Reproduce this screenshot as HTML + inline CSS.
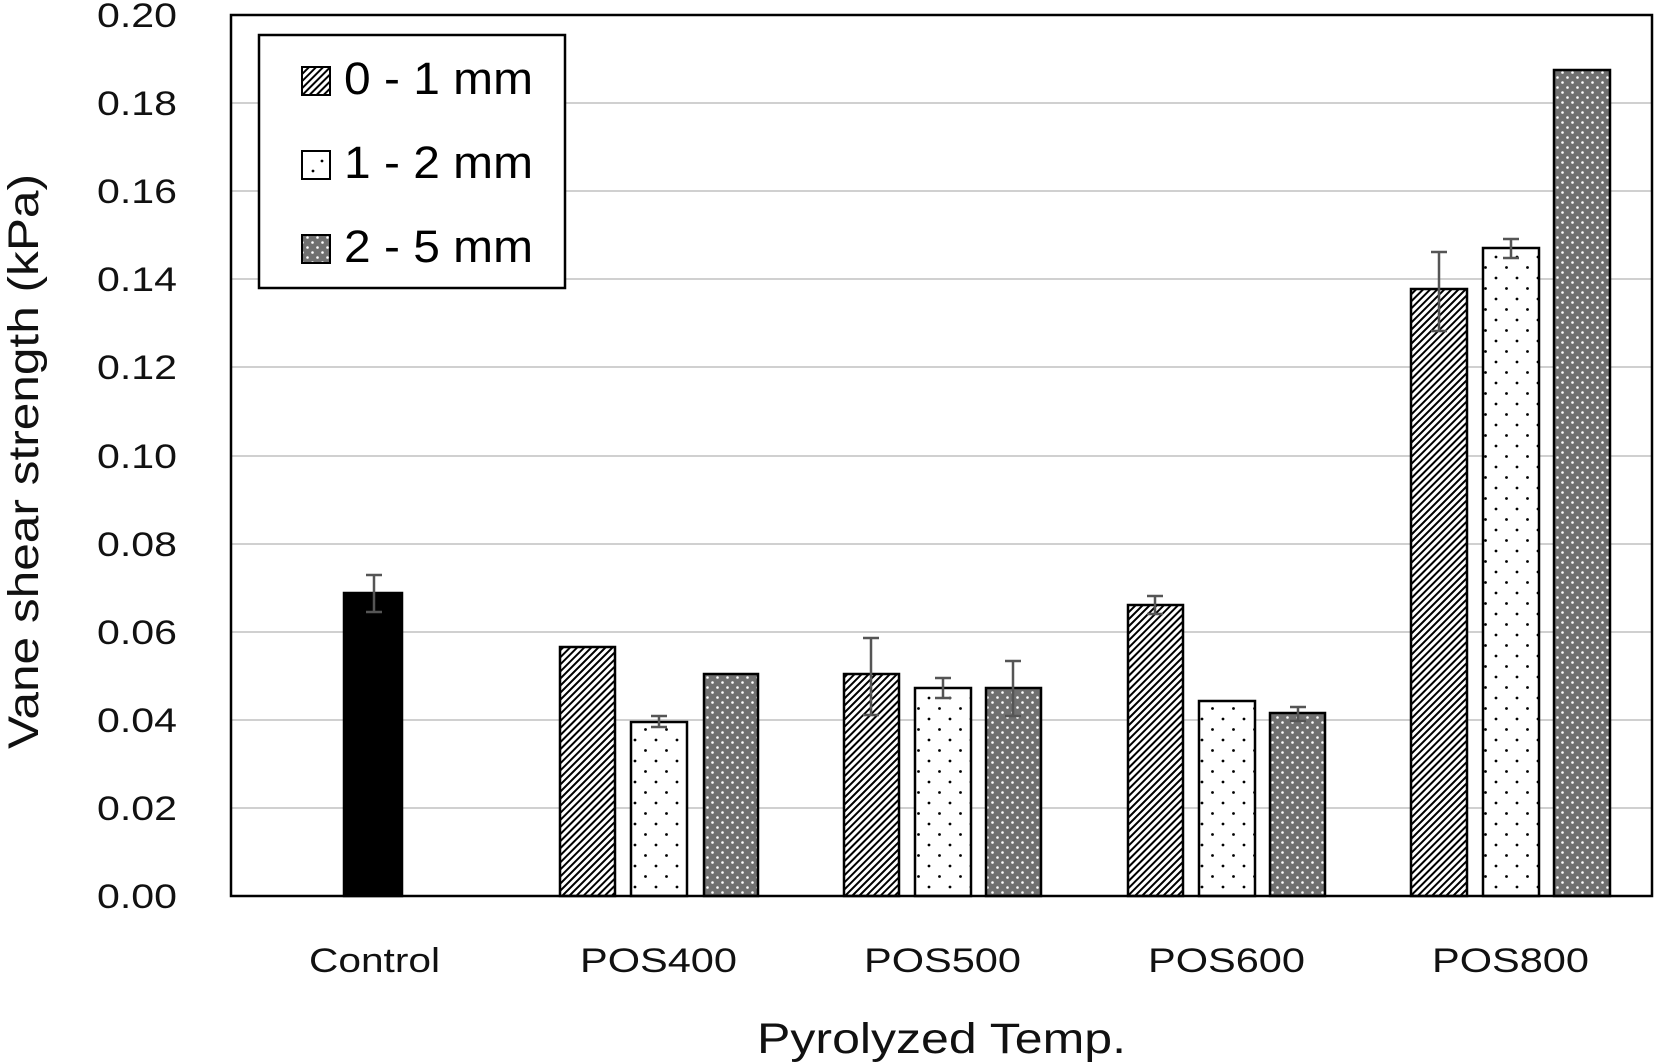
<!DOCTYPE html>
<html><head><style>body{margin:0;background:#fff}svg{display:block}</style></head><body>
<svg width="1654" height="1062" xmlns="http://www.w3.org/2000/svg" font-family="Liberation Sans, Arial, sans-serif">
<defs>
<pattern id="hatch" patternUnits="userSpaceOnUse" width="5" height="5" patternTransform="rotate(45)">
<rect width="5" height="5" fill="#fff"/><rect width="2" height="5" fill="#000"/></pattern>
<pattern id="dots" patternUnits="userSpaceOnUse" width="21" height="21">
<rect width="21" height="21" fill="#fff"/><circle cx="5" cy="5" r="1.4" fill="#000"/><circle cx="15.5" cy="15.5" r="1.4" fill="#000"/></pattern>
<pattern id="gray" patternUnits="userSpaceOnUse" width="10" height="10">
<rect width="10" height="10" fill="#707070"/><circle cx="2.5" cy="2.5" r="1.3" fill="#fff"/><circle cx="7.5" cy="7.5" r="1.3" fill="#fff"/></pattern>
</defs>
<g stroke="#d0d0d0" stroke-width="2">
<line x1="231" x2="1652" y1="103" y2="103"/><line x1="231" x2="1652" y1="191" y2="191"/>
<line x1="231" x2="1652" y1="279" y2="279"/><line x1="231" x2="1652" y1="367" y2="367"/>
<line x1="231" x2="1652" y1="456" y2="456"/><line x1="231" x2="1652" y1="544" y2="544"/>
<line x1="231" x2="1652" y1="632" y2="632"/><line x1="231" x2="1652" y1="720" y2="720"/>
<line x1="231" x2="1652" y1="808" y2="808"/>
</g>
<g stroke="#000" stroke-width="2.5">
<rect x="344" y="593" width="58" height="303" fill="#000"/>
<rect x="560" y="647" width="55" height="249" fill="url(#hatch)"/>
<rect x="631" y="722" width="56" height="174" fill="url(#dots)"/>
<rect x="704" y="674" width="54" height="222" fill="url(#gray)"/>
<rect x="844" y="674" width="55" height="222" fill="url(#hatch)"/>
<rect x="915" y="688" width="56" height="208" fill="url(#dots)"/>
<rect x="986" y="688" width="55" height="208" fill="url(#gray)"/>
<rect x="1128" y="605" width="55" height="291" fill="url(#hatch)"/>
<rect x="1199" y="701" width="56" height="195" fill="url(#dots)"/>
<rect x="1270" y="713" width="55" height="183" fill="url(#gray)"/>
<rect x="1411" y="289" width="56" height="607" fill="url(#hatch)"/>
<rect x="1483" y="248" width="56" height="648" fill="url(#dots)"/>
<rect x="1554" y="70" width="56" height="826" fill="url(#gray)"/>
</g>
<g stroke="#555" stroke-width="2.5" fill="none">
<path d="M374 575V612M366 575H382M366 612H382"/>
<path d="M659 716V727M651 716H667M651 727H667"/>
<path d="M871 638V715M863 638H879M863 715H879"/>
<path d="M943 678V698M935 678H951M935 698H951"/>
<path d="M1013 661V716M1005 661H1021M1005 716H1021"/>
<path d="M1155 596V614M1147 596H1163M1147 614H1163"/>
<path d="M1298 707V721M1290 707H1306M1290 721H1306"/>
<path d="M1439 252V331M1431 252H1447M1431 331H1447"/>
<path d="M1511 239V258M1503 239H1519M1503 258H1519"/>
</g>
<rect x="231" y="15" width="1421" height="881" fill="none" stroke="#000" stroke-width="2.5"/>
<rect x="259" y="35" width="306" height="253" fill="#fff" stroke="#000" stroke-width="2.5"/>
<rect x="302" y="67" width="28" height="28" fill="url(#hatch)" stroke="#000" stroke-width="2"/>
<rect x="302" y="151" width="28" height="28" fill="#fff" stroke="#000" stroke-width="2"/>
<circle cx="322" cy="161" r="1.4"/><circle cx="313" cy="171" r="1.4"/>
<rect x="302" y="235" width="28" height="28" fill="url(#gray)" stroke="#000" stroke-width="2"/>
<g font-size="45" fill="#000">
<text x="344" y="94" textLength="189" lengthAdjust="spacingAndGlyphs">0 - 1 mm</text>
<text x="344" y="178" textLength="189" lengthAdjust="spacingAndGlyphs">1 - 2 mm</text>
<text x="344" y="262" textLength="189" lengthAdjust="spacingAndGlyphs">2 - 5 mm</text>
</g>
<g font-size="34" fill="#111">
<text x="97" y="27" textLength="80" lengthAdjust="spacingAndGlyphs">0.20</text>
<text x="97" y="115" textLength="80" lengthAdjust="spacingAndGlyphs">0.18</text>
<text x="97" y="203" textLength="80" lengthAdjust="spacingAndGlyphs">0.16</text>
<text x="97" y="291" textLength="80" lengthAdjust="spacingAndGlyphs">0.14</text>
<text x="97" y="379" textLength="80" lengthAdjust="spacingAndGlyphs">0.12</text>
<text x="97" y="468" textLength="80" lengthAdjust="spacingAndGlyphs">0.10</text>
<text x="97" y="556" textLength="80" lengthAdjust="spacingAndGlyphs">0.08</text>
<text x="97" y="644" textLength="80" lengthAdjust="spacingAndGlyphs">0.06</text>
<text x="97" y="732" textLength="80" lengthAdjust="spacingAndGlyphs">0.04</text>
<text x="97" y="820" textLength="80" lengthAdjust="spacingAndGlyphs">0.02</text>
<text x="97" y="908" textLength="80" lengthAdjust="spacingAndGlyphs">0.00</text>
</g>
<g font-size="34" fill="#111">
<text x="309" y="972" textLength="131" lengthAdjust="spacingAndGlyphs">Control</text>
<text x="580" y="972" textLength="157" lengthAdjust="spacingAndGlyphs">POS400</text>
<text x="864" y="972" textLength="157" lengthAdjust="spacingAndGlyphs">POS500</text>
<text x="1148" y="972" textLength="157" lengthAdjust="spacingAndGlyphs">POS600</text>
<text x="1432" y="972" textLength="157" lengthAdjust="spacingAndGlyphs">POS800</text>
</g>
<text x="757" y="1053" font-size="43" fill="#111" textLength="369" lengthAdjust="spacingAndGlyphs">Pyrolyzed Temp.</text>
<text transform="translate(38,461) rotate(-90)" x="-288" font-size="43" fill="#111" textLength="575" lengthAdjust="spacingAndGlyphs">Vane shear strength (kPa)</text>
</svg>
</body></html>
